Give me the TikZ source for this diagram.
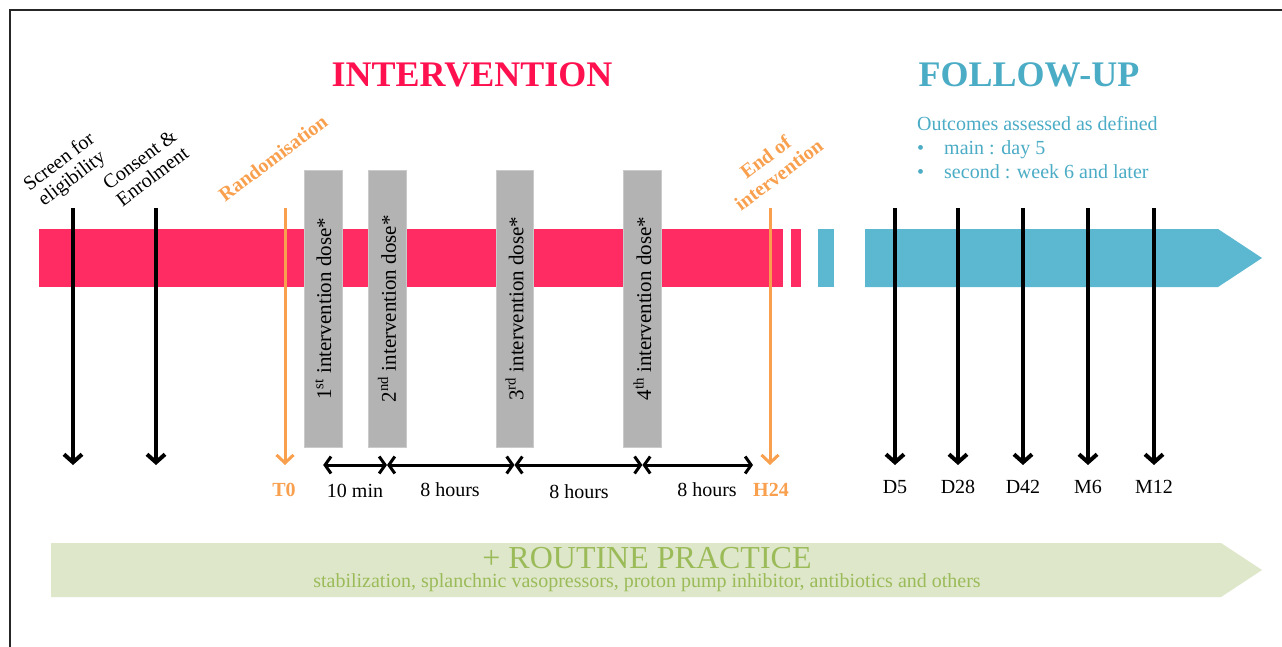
\documentclass[tikz,border=0pt]{standalone}
\usepackage{fontspec}
\setmainfont{Liberation Serif}
\usetikzlibrary{arrows.meta}
\definecolor{ipink}{HTML}{FF2C64}
\definecolor{ired}{HTML}{FF1150}
\definecolor{fblue}{HTML}{5BB8D0}
\definecolor{ftext}{HTML}{4BACC6}
\definecolor{iorange}{HTML}{F9A04E}
\definecolor{dgray}{HTML}{B3B3B3}
\definecolor{rgreen}{HTML}{DEE7CA}
\definecolor{rtext}{HTML}{9BBB59}
\begin{document}
\begin{tikzpicture}[x=1pt,y=-1pt,
  lbl/.style={font=\fontsize{20}{21}\selectfont, inner sep=0pt},
  rlbl/.style={lbl, rotate=37, align=center},
  olbl/.style={rlbl, text=iorange, font=\fontsize{20}{22}\selectfont\bfseries},
  title/.style={font=\fontsize{36}{36}\selectfont\bfseries, anchor=base, inner sep=0pt},
  blackarr/.style={line width=4pt, -{Straight Barb[length=8pt,width=18pt]}},
  orangearr/.style={draw=iorange, line width=3pt, -{Straight Barb[length=8pt,width=17pt]}},
  dbl/.style={line width=3pt, {Straight Barb[length=6pt,width=17pt]}-{Straight Barb[length=6pt,width=17pt]}},
  dosebar/.style={fill=dgray, draw=dgray!70!white, line width=0.5pt, rotate=90, minimum width=277pt, minimum height=37.5pt, inner sep=0pt, font=\fontsize{21}{21}\selectfont},
  tick/.style={lbl, anchor=center},
  otick/.style={lbl, text=iorange, font=\fontsize{20}{20}\selectfont\bfseries},
  ftxt/.style={font=\fontsize{20}{20}\selectfont, text=ftext, anchor=base west, inner sep=0pt}
]
\useasboundingbox (0,0) rectangle (1282,647);
\fill[white] (0,0) rectangle (1282,647);
% frame
\draw[line width=2pt, black!85] (10,647) -- (10,10) -- (1282,10);

% titles
\node[title, text=ired] (tint) at (472,87) {INTERVENTION};
\node[title, text=ftext] (tfol) at (1029,87) {FOLLOW-UP};

% follow-up text
\node[ftxt] (out) at (917,131) {Outcomes assessed as defined};
\node[ftxt] (b1) at (917,155) {•};
\node[ftxt] (main) at (944,155) {main : day 5};
\node[ftxt] (b2) at (917,179) {•};
\node[ftxt] (sec) at (944,179) {second : week 6 and later};

% timeline bars
\fill[ipink] (39,229) rectangle (783,287);
\fill[ipink] (791,229) rectangle (801,287);
\fill[fblue] (818,229) rectangle (834,287);
\fill[fblue] (865,229) -- (1218,229) -- (1262,258) -- (1218,287) -- (865,287) -- cycle;

% dose bars
\node[dosebar] (d1) at (323.2,308.7) {1\textsuperscript{st} intervention dose*};
\node[dosebar] (d2) at (387,308.7) {2\textsuperscript{nd} intervention dose*};
\node[dosebar] (d3) at (514.5,308.7) {3\textsuperscript{rd} intervention dose*};
\node[dosebar] (d4) at (642.4,308.7) {4\textsuperscript{th} intervention dose*};

% rotated labels
\node[rlbl] (screen) at (66,171) {Screen for\\eligibility};
\node[rlbl] (consent) at (146,168) {Consent \&\\Enrolment};
\node[olbl] (rand) at (273,158) {Randomisation};
\node[olbl] (endint) at (772,166) {End of\\intervention};

% bottom labels
\node[otick] (t0) at (284,490) {T0};
\node[tick] (l1) at (355,491) {10 min};
\node[tick] (l2) at (450,490) {8 hours};
\node[tick] (l3) at (579,492) {8 hours};
\node[tick] (l4) at (707,490) {8 hours};
\node[otick] (h24) at (771,490) {H24};
\node[tick] (dd5) at (895,487) {D5};
\node[tick] (dd28) at (958,487) {D28};
\node[tick] (dd42) at (1023,487) {D42};
\node[tick] (mm6) at (1088,487) {M6};
\node[tick] (mm12) at (1154,487) {M12};

% arrow end points
\coordinate (top) at (0,208);
\coordinate (bot) at (0,465);
\coordinate (sa) at (73,0);
\coordinate (ca) at (156,0);
\coordinate (ra) at (285,0);
\coordinate (ea) at (770,0);
\coordinate (fend) at (753,465);

\draw[blackarr] (sa |- top) -- (sa |- bot);
\draw[blackarr] (ca |- top) -- (ca |- bot);
\draw[orangearr] (ra |- top) -- (ra |- bot);
\draw[orangearr] (ea |- top) -- (ea |- bot);
\draw[blackarr] (dd5 |- top) -- (dd5 |- bot);
\draw[blackarr] (dd28 |- top) -- (dd28 |- bot);
\draw[blackarr] (dd42 |- top) -- (dd42 |- bot);
\draw[blackarr] (mm6 |- top) -- (mm6 |- bot);
\draw[blackarr] (mm12 |- top) -- (mm12 |- bot);

% interval arrows
\draw[dbl] (d1.west |- bot) -- (d2.west |- bot);
\draw[dbl] (d2.west |- bot) -- (d3.west |- bot);
\draw[dbl] (d3.west |- bot) -- (d4.west |- bot);
\draw[dbl] (d4.west |- bot) -- (fend);

% routine practice
\fill[rgreen] (51,543) -- (1221,543) -- (1262,570) -- (1221,597) -- (51,597) -- cycle;
\node[anchor=base, inner sep=0pt, text=rtext, font=\fontsize{32}{32}\selectfont] (rp) at (647,568) {+ ROUTINE PRACTICE};
\node[anchor=base, inner sep=0pt, text=rtext, font=\fontsize{20}{20}\selectfont] (rps) at (647,587) {stabilization, splanchnic vasopressors, proton pump inhibitor, antibiotics and others};
\end{tikzpicture}
\end{document}
